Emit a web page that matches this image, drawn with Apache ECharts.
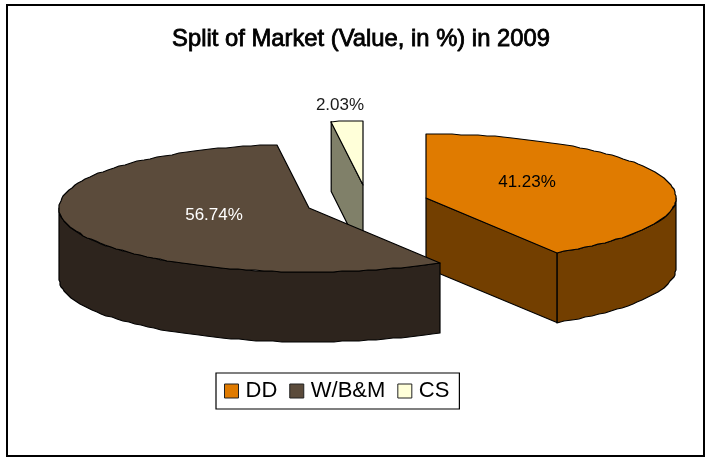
<!DOCTYPE html>
<html>
<head>
<meta charset="utf-8" />
<style>
  html, body { margin: 0; padding: 0; background: #fff; }
  #main { width: 707px; height: 457px; }
</style>
<script src="https://cdn.jsdelivr.net/npm/echarts@6/dist/echarts.min.js"></script>
</head>
<body>
<div id="main"></div>
<script>
const categories = ["DD", "W/B&M", "CS"];
const shares = [41.23, 56.74, 2.03];

// look of each slice, same order as categories
const sliceLook = [
  { top: "#e07b00", wall: "#733f00", apex: [426, 198], label: [527, 182], text: "#000", z: 1 },
  { top: "#5b4b3b", wall: "#2d241d", apex: [309, 208], label: [214, 215], text: "#fff", z: 3 },
  { top: "#ffffd9", wall: "#808069", apex: [363, 185], label: [340, 105], text: "#1a1a1a", z: 2 },
];
const rx = 250;
const ry = 64;
const depth = 70;
const fontName = "Liberation Sans";

const total = shares.reduce((a, b) => a + b, 0);

// angle is clockwise from 12 o'clock, like the original pie
const rimPoint = (apex, deg) => {
  const r = (deg * Math.PI) / 180;
  return [apex[0] + rx * Math.sin(r), apex[1] - ry * Math.cos(r)];
};

// old office charts draw the rim in short straight pieces
const rimPoints = (apex, from, to) => {
  const pts = [];
  const n = Math.max(1, Math.round((to - from) / 2));
  for (let i = 0; i <= n; i++) {
    const p = rimPoint(apex, from + ((to - from) * i) / n);
    pts.push([Math.round(p[0]), Math.round(p[1])]);
  }
  return pts;
};

const lowered = (pts) => pts.map((p) => [p[0], p[1] + depth]);

const renderSlice = (params, api) => {
  const idx = params.seriesIndex;
  const look = sliceLook[idx];
  const before = shares.slice(0, idx).reduce((a, b) => a + b, 0);
  const a0 = (before / total) * 360;
  const a1 = a0 + (api.value(0) / total) * 360;
  const apex = look.apex;
  const children = [];

  const face = (points, fill) => ({
    type: "polygon",
    shape: { points: points },
    style: { fill: fill, stroke: "#000", lineWidth: 1.2, lineJoin: "round" },
  });

  // outer wall, only the front half of the rim shows
  const w0 = Math.max(a0, 90);
  const w1 = Math.min(a1, 270);
  if (w1 > w0) {
    const rim = rimPoints(apex, w0, w1);
    children.push(face(rim.concat(lowered(rim).reverse()), look.wall));
  }
  // cut faces that look towards the viewer
  [
    [a0, Math.sin((a0 * Math.PI) / 180) < -0.001],
    [a1, Math.sin((a1 * Math.PI) / 180) > 0.001],
  ].forEach((cut) => {
    if (cut[1]) {
      const edge = [apex, rimPoint(apex, cut[0])];
      children.push(face(edge.concat(lowered(edge).reverse()), look.wall));
    }
  });
  // top
  children.push(face([apex].concat(rimPoints(apex, a0, a1)), look.top));
  // value label
  children.push({
    type: "text",
    x: look.label[0],
    y: look.label[1],
    style: {
      text: api.value(0).toFixed(2) + "%",
      fill: look.text,
      font: "17px '" + fontName + "'",
      align: "center",
      verticalAlign: "middle",
    },
  });
  return { type: "group", children: children };
};

const myChart = echarts.init(document.getElementById("main"));
let option;
option = {
  animation: false,
  backgroundColor: "#fff",
  title: {
    text: "Split of Market (Value, in %) in 2009",
    left: 356,
    top: 22,
    textAlign: "center",
    textStyle: {
      fontFamily: fontName,
      fontSize: 23.8,
      fontWeight: "normal",
      color: "#000",
      textBorderColor: "#000",
      textBorderWidth: 0.8,
    },
  },
  legend: {
    data: categories,
    left: 216,
    top: 373,
    orient: "horizontal",
    padding: [7, 10, 7, 8],
    icon: "rect",
    itemWidth: 14,
    itemHeight: 14,
    itemGap: 12,
    borderColor: "#000",
    borderWidth: 1.2,
    backgroundColor: "#fff",
    selectedMode: false,
    itemStyle: { borderColor: "#222", borderWidth: 1 },
    textStyle: {
      fontFamily: fontName,
      fontSize: 22,
      color: "#000",
      padding: [2, 0, 0, 2],
    },
  },
  graphic: [
    {
      type: "rect",
      silent: true,
      z: -1,
      shape: { x: 7, y: 5, width: 697, height: 451 },
      style: { fill: "#fff", stroke: "#000", lineWidth: 2 },
    },
  ],
  series: categories.map((name, i) => ({
    name: name,
    type: "custom",
    coordinateSystem: "none",
    z: sliceLook[i].z,
    itemStyle: { color: sliceLook[i].top },
    data: [shares[i]],
    renderItem: renderSlice,
  })),
};

option && myChart.setOption(option);
</script>
</body>
</html>
